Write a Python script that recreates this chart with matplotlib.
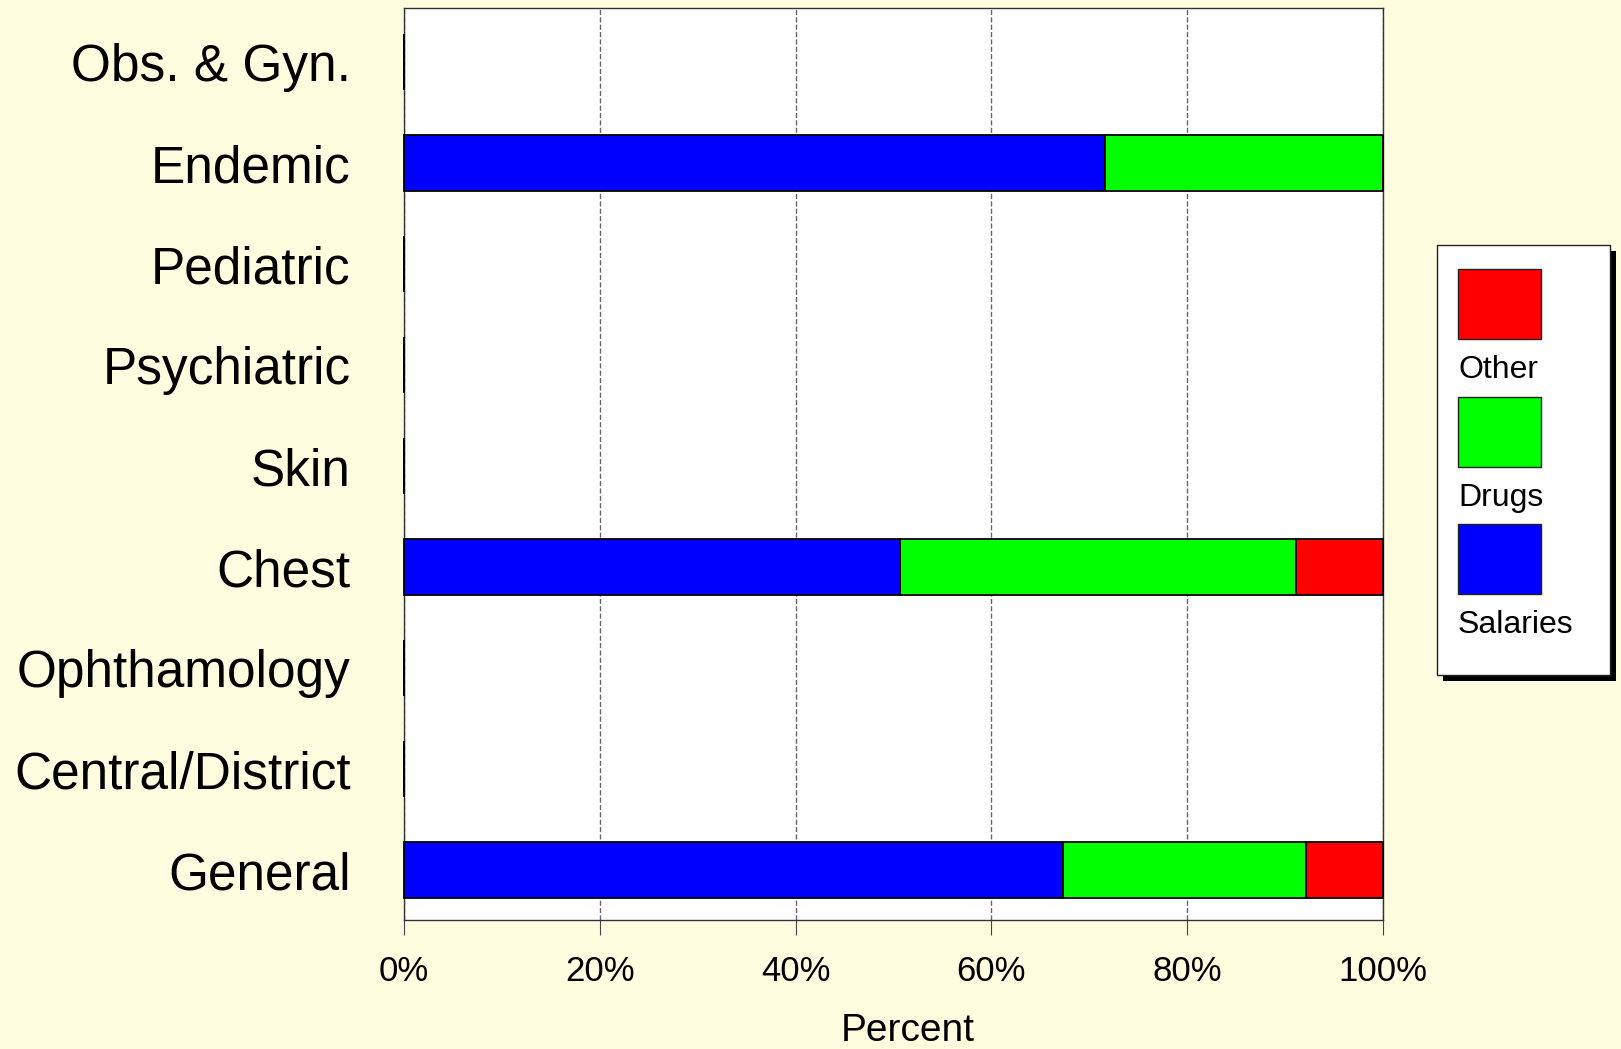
import numpy as np
import matplotlib.pyplot as plt
from matplotlib.patches import Rectangle

plt.rcParams['font.family'] = ['Liberation Sans', 'DejaVu Sans']

# data: percent of spending by hospital type (bottom -> top)
categories = ["General", "Central/District", "Ophthamology", "Chest", "Skin",
              "Psychiatric", "Pediatric", "Endemic", "Obs. & Gyn."]
salaries = [67.3, 0, 0, 50.7, 0, 0, 0, 71.6, 0]
drugs = [24.8, 0, 0, 40.4, 0, 0, 0, 28.4, 0]
other = [7.9, 0, 0, 8.9, 0, 0, 0, 0.0, 0]
series_names = ["Salaries", "Drugs", "Other"]
series_colors = ["#0000ff", "#00ff00", "#ff0000"]
xticks = [0, 20, 40, 60, 80, 100]

W, H = 1621, 1049
bg = "#fffde0"
fig = plt.figure(figsize=(W / 100, H / 100), dpi=100, facecolor=bg)


def fx(px):
    return px / W


def fy(py):
    return 1 - py / H


ax = fig.add_axes([fx(404), fy(920), fx(1383) - fx(404), fy(8) - fy(920)])
ax.set_facecolor("white")

y = np.arange(len(categories))
left = np.zeros(len(categories))
for vals, name, col in zip([salaries, drugs, other], series_names, series_colors):
    ax.barh(y, vals, left=left, height=0.56, color=col, edgecolor="black",
            linewidth=1.3, zorder=3, label=name, clip_on=False)
    left = left + np.array(vals)

ax.set_xlim(0, 100)
ax.set_ylim(-0.495, 8.535)
ax.set_yticks(y)
ax.set_yticklabels(categories, fontsize=37)
ax.tick_params(axis="y", length=0, pad=38.5)
ax.set_xticks(xticks)
ax.set_xticklabels(["{}%".format(t) for t in xticks], fontsize=25)
ax.tick_params(axis="x", direction="out", length=11, width=0.8, color="#444444", pad=14)
ax.xaxis.grid(True, linestyle="--", color="#666666", linewidth=1, zorder=1)
ax.set_axisbelow(True)
for s in ax.spines.values():
    s.set_color("#333333")
    s.set_linewidth(1)
ax.set_xlabel("Percent", fontsize=28)
ax.xaxis.set_label_coords(0.515, -0.102)

# hand-made legend box with shadow, labels under the swatches
fig.add_artist(Rectangle((fx(1443), fy(681)), fx(1616) - fx(1443), fy(251) - fy(681),
                         transform=fig.transFigure, facecolor="black", edgecolor="none"))
fig.add_artist(Rectangle((fx(1437), fy(675)), fx(1610) - fx(1437), fy(245) - fy(675),
                         transform=fig.transFigure, facecolor="white", edgecolor="#222222",
                         linewidth=1))
tops = [269, 397, 524]
for i, (name, col) in enumerate(zip(series_names[::-1], series_colors[::-1])):
    t = tops[i]
    fig.add_artist(Rectangle((fx(1458), fy(t + 70)), fx(1541) - fx(1458), fy(t) - fy(t + 70),
                             transform=fig.transFigure, facecolor=col, edgecolor="#222222",
                             linewidth=1))
    fig.text(fx(1458), fy(t + 109), name, fontsize=23, ha="left", va="baseline")

fig.savefig("out.png", dpi=100, facecolor=bg)
